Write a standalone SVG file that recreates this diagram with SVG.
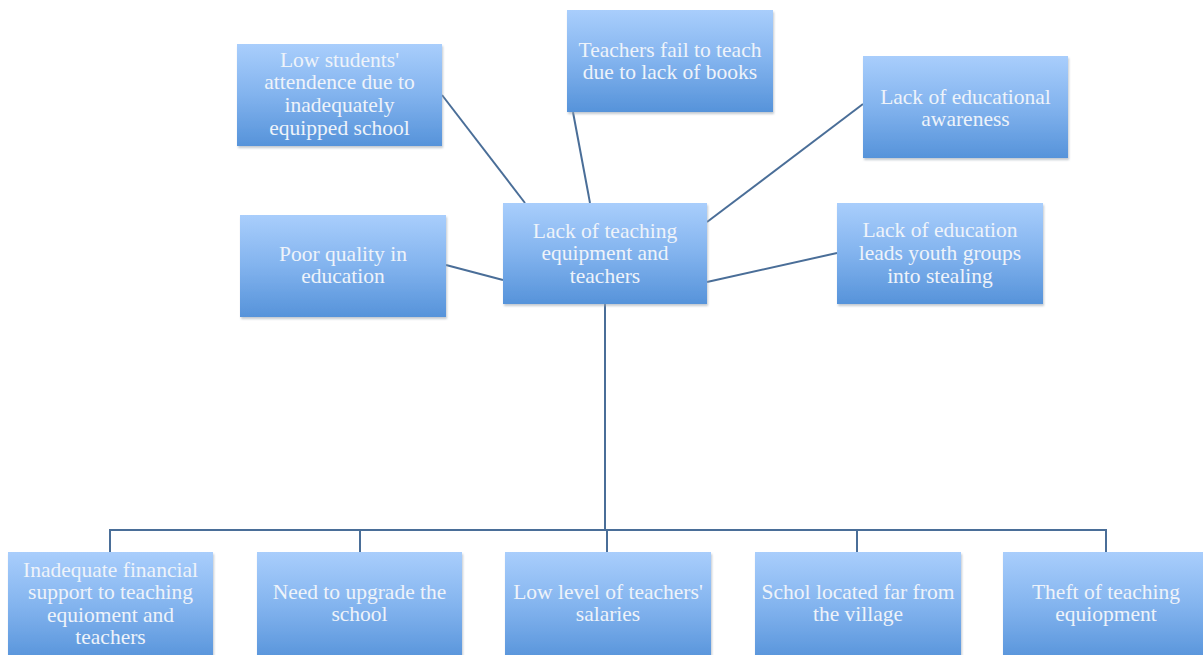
<svg xmlns="http://www.w3.org/2000/svg" width="1203" height="655" viewBox="0 0 1203 655">
  <defs>
    <linearGradient id="boxFill" x1="0" y1="0" x2="0" y2="1">
      <stop offset="0" stop-color="#a9cefc"/>
      <stop offset="0.5" stop-color="#82b3ee"/>
      <stop offset="1" stop-color="#5693da"/>
    </linearGradient>
    <filter id="shade" x="-5%" y="-5%" width="112%" height="115%">
      <feDropShadow dx="1" dy="2" stdDeviation="1" flood-color="#9aa4b0" flood-opacity="0.6"/>
    </filter>
  </defs>
  <style>
    .box { fill: url(#boxFill); filter: url(#shade); }
    .lbl { font-family: "Liberation Serif", "DejaVu Serif", serif; font-size: 21.5px; fill: #eef3fa; text-anchor: middle; }
    .link { stroke: #4a6e98; stroke-width: 2; fill: none; }
  </style>
  <rect width="1203" height="655" fill="#ffffff"/>

  <g id="connectors">
    <line class="link" x1="442" y1="95" x2="525" y2="203"/>
    <line class="link" x1="573" y1="112" x2="590" y2="203"/>
    <line class="link" x1="863" y1="104" x2="707" y2="222"/>
    <line class="link" x1="446" y1="265" x2="503" y2="280"/>
    <line class="link" x1="837" y1="253" x2="707" y2="282"/>
    <line class="link" x1="605" y1="304" x2="605" y2="530"/>
    <polyline class="link" points="110,552 110,530 1106,530 1106,552"/>
    <line class="link" x1="360" y1="530" x2="360" y2="552"/>
    <line class="link" x1="607" y1="530" x2="607" y2="552"/>
    <line class="link" x1="857" y1="530" x2="857" y2="552"/>
  </g>

  <g id="node-low-attendance">
    <rect class="box" x="237" y="44" width="205" height="102"/>
    <text class="lbl" x="339.5" y="67">Low students'</text>
    <text class="lbl" x="339.5" y="89">attendence due to</text>
    <text class="lbl" x="339.5" y="112">inadequately</text>
    <text class="lbl" x="339.5" y="135">equipped school</text>
  </g>

  <g id="node-teachers-fail">
    <rect class="box" x="567" y="10" width="206" height="102"/>
    <text class="lbl" x="670" y="57">Teachers fail to teach</text>
    <text class="lbl" x="670" y="79">due to lack of books</text>
  </g>

  <g id="node-awareness">
    <rect class="box" x="863" y="56" width="205" height="102"/>
    <text class="lbl" x="965.5" y="104">Lack of educational</text>
    <text class="lbl" x="965.5" y="126">awareness</text>
  </g>

  <g id="node-poor-quality">
    <rect class="box" x="240" y="215" width="206" height="102"/>
    <text class="lbl" x="343" y="261">Poor quality in</text>
    <text class="lbl" x="343" y="283">education</text>
  </g>

  <g id="node-core">
    <rect class="box" x="503" y="203" width="204" height="101"/>
    <text class="lbl" x="605" y="238">Lack of teaching</text>
    <text class="lbl" x="605" y="260">equipment and</text>
    <text class="lbl" x="605" y="283">teachers</text>
  </g>

  <g id="node-youth-stealing">
    <rect class="box" x="837" y="203" width="206" height="101"/>
    <text class="lbl" x="940" y="237">Lack of education</text>
    <text class="lbl" x="940" y="260">leads youth groups</text>
    <text class="lbl" x="940" y="283">into stealing</text>
  </g>

  <g id="node-financial">
    <rect class="box" x="8" y="552" width="205" height="110"/>
    <text class="lbl" x="110.5" y="577">Inadequate financial</text>
    <text class="lbl" x="110.5" y="599">support to teaching</text>
    <text class="lbl" x="110.5" y="622">equioment and</text>
    <text class="lbl" x="110.5" y="644">teachers</text>
  </g>

  <g id="node-upgrade">
    <rect class="box" x="257" y="552" width="205" height="110"/>
    <text class="lbl" x="359.5" y="599">Need to upgrade the</text>
    <text class="lbl" x="359.5" y="621">school</text>
  </g>

  <g id="node-salaries">
    <rect class="box" x="505" y="552" width="206" height="110"/>
    <text class="lbl" x="608" y="599">Low level of teachers'</text>
    <text class="lbl" x="608" y="621">salaries</text>
  </g>

  <g id="node-distance">
    <rect class="box" x="755" y="552" width="206" height="110"/>
    <text class="lbl" x="858" y="599">Schol located far from</text>
    <text class="lbl" x="858" y="621">the village</text>
  </g>

  <g id="node-theft">
    <rect class="box" x="1003" y="552" width="200" height="110"/>
    <text class="lbl" x="1106" y="599">Theft of teaching</text>
    <text class="lbl" x="1106" y="621">equiopment</text>
  </g>
</svg>
